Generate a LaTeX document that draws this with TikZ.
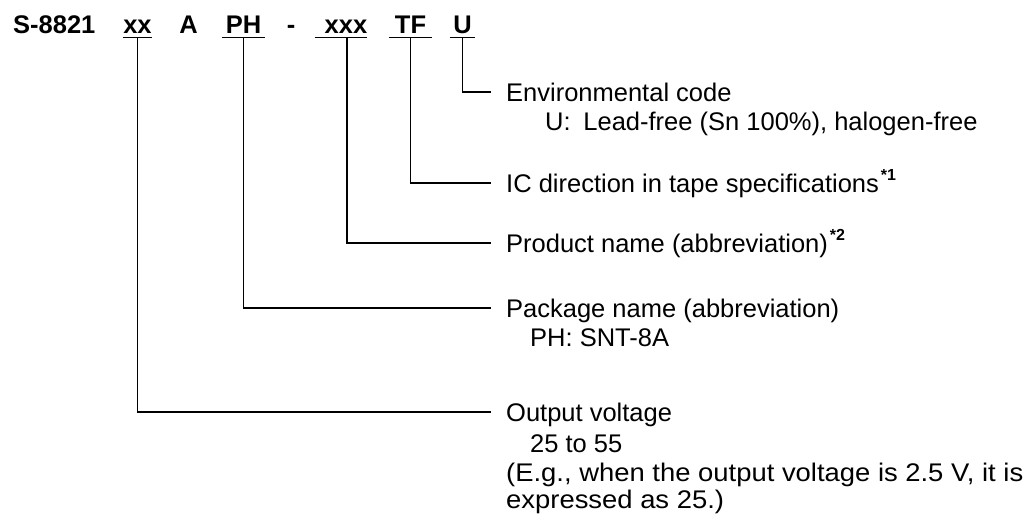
\documentclass[tikz,border=0pt]{standalone}
\usepackage{fontspec}
\setmainfont{Liberation Sans}
\tikzstyle{link} = [line width=1.3pt]

\begin{document}
\begin{tikzpicture}[x=1pt, y=-1pt,
			code/.style={font=\fontsize{25.5}{28}\selectfont\bfseries, inner xsep=0pt, inner ysep=4pt, text height=17pt, text depth=0pt, anchor=base},
			title/.style={font=\fontsize{25.5}{29}\selectfont, inner xsep=15pt, inner ysep=0pt, text height=18pt, text depth=0pt, anchor=base west},
			detail/.style={font=\fontsize{25.5}{29}\selectfont, inner sep=0pt, anchor=base west}
			]
			\useasboundingbox (0,0) rectangle (1028,519);
			
			% Part number
			\node[code, anchor=base west] (part) at (13,33.5) {S-8821};
			\node[code, minimum width=29pt] (xx) at (137.5,33.5) {xx};
			\node[code] (a) at (188.5,33.5) {A};
			\node[code, minimum width=43pt] (ph) at (243.5,33.5) {PH};
			\node[code] (dash) at (291,33.5) {-};
			\node[code, minimum width=52pt] (xxx) at (341,33.5) {\hspace*{10pt}xxx};
			\node[code, minimum width=43pt] (tf) at (410.5,33.5) {TF};
			\node[code, minimum width=25pt] (u) at (462.5,33.5) {U};
			
			% Underlines
			\draw[link] (xx.south west) -- (xx.south east);
			\draw[link] (ph.south west) -- (ph.south east);
			\draw[link] (xxx.south west) -- (xxx.south east);
			\draw[link] (tf.south west) -- (tf.south east);
			\draw[link] (u.south west) -- (u.south east);
			
			% Descriptions
			\node[title] (env) at (491,101) {Environmental code};
			\node[detail] (envu) at (545,130) {U:\hspace{0.5em}Lead-free (Sn 100\%), halogen-free};
			\node[title] (dir) at (491,192) {IC direction in tape specifications\kern2pt\raisebox{12pt}{\fontsize{16}{16}\selectfont\bfseries *1}};
			\node[title] (prod) at (491,252) {Product name (abbreviation)\kern2pt\raisebox{12pt}{\fontsize{16}{16}\selectfont\bfseries *2}};
			\node[title] (pkg) at (491,317) {Package name (abbreviation)};
			\node[detail] (pkgph) at (530,346) {PH: SNT-8A};
			\node[title] (volt) at (491,421) {Output voltage};
			\node[detail] (range) at (530,452) {25 to 55};
			\node[detail] (eg) at (506,481) {\scalebox{1.075}[1]{(E.g., when the output voltage is 2.5 V, it is}};
			\node[detail] (expr) at (506,508) {\scalebox{1.075}[1]{expressed as 25.)}};
			
			% Leaders
			\draw[link] (u.south) |- (env.west);
			\draw[link] (tf.south) |- (dir.west);
			\draw[link] ([xshift=6pt]xxx.south) |- (prod.west);
			\draw[link] (ph.south) |- (pkg.west);
			\draw[link] (xx.south) |- (volt.west);
			
		\end{tikzpicture}
\end{document}
